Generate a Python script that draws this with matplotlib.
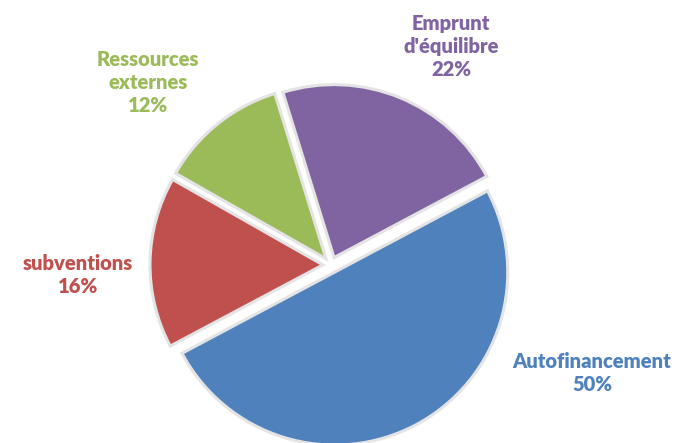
import matplotlib.pyplot as plt

# chart values
categories = ["Emprunt\nd'équilibre", "Autofinancement", "subventions", "Ressources\nexternes"]
shares = [22, 50, 16, 12]
colors = ["#8064A2", "#4F81BD", "#C0504D", "#9BBB59"]

# label positions in pixels (x, y from top), not data
label_pos = [(451, 46), (592, 373), (78, 275), (148, 82)]

W, H = 675, 443
fig = plt.figure(figsize=(W / 100, H / 100), dpi=100)
ax = fig.add_axes([0, 0, 1, 1])

R = 173
cx, cy = 331, H - 265
# explode is in data units here (pixels)
wedges, _ = ax.pie(shares, colors=colors, startangle=107.2, counterclock=False,
                   radius=R, center=(cx, cy), explode=[8] * len(shares),
                   wedgeprops=dict(edgecolor="#e4e4e4", linewidth=2.2),
                   frame=True)
ax.set_xlim(0, W)
ax.set_ylim(0, H)
ax.set_aspect("equal")
ax.axis("off")

for cat, val, col, (x, y) in zip(categories, shares, colors, label_pos):
    ax.text(x, H - y, f"{cat}\n{val}%", color=col, ha="center", va="center",
            fontsize=14.5, fontweight="heavy", family="Lato", linespacing=1.25)

fig.savefig("out.png", dpi=100)
